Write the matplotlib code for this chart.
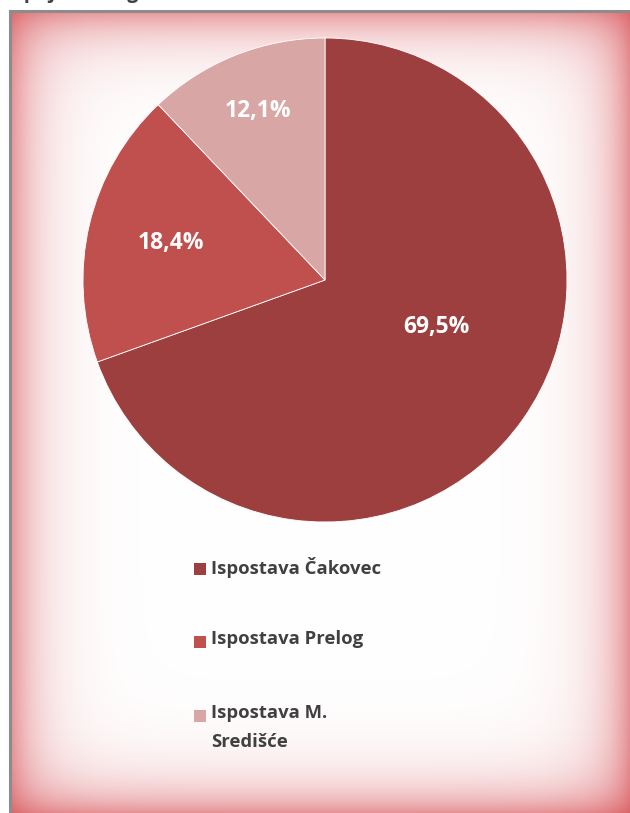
import numpy as np
import matplotlib.pyplot as plt
from matplotlib.patches import Rectangle

labels = ['Ispostava Čakovec', 'Ispostava Prelog', 'Ispostava M.\nSredišće']
values = [69.5, 18.4, 12.1]
colors = ['#9e3f3f', '#c0504d', '#d9a6a6']
pct_text = ['69,5%', '18,4%', '12,1%']

W, H = 630, 813
fig = plt.figure(figsize=(W / 100, H / 100), dpi=100)
fig.patch.set_facecolor('white')

# framed background with red glow at the edges
bg = fig.add_axes([10 / W, 0, (W - 10) / W, (H - 11) / H])
ny, nx = H - 11, W - 10
yy, xx = np.mgrid[0:ny, 0:nx]
dx = np.minimum(xx, nx - 1 - xx)
dy = np.minimum(yy, ny - 1 - yy)
ax_ = 0.58 * np.exp(-dx / 28.0)
ay_ = 0.58 * np.exp(-dy / 28.0)
a = 1 - (1 - ax_) * (1 - ay_)
red = np.array([212, 68, 74]) / 255.0
img = (1 - a[..., None]) * 1.0 + a[..., None] * red
bg.imshow(img, aspect='auto', interpolation='nearest')
bg.set_xticks([])
bg.set_yticks([])
for s in bg.spines.values():
    s.set_visible(False)
for side in ['left', 'top']:
    bg.spines[side].set_visible(True)
    bg.spines[side].set_color('#8c8c8c')
    bg.spines[side].set_linewidth(2.2)

# cut-off title
fig.text(12 / W, 1 + 7 / H, 'lipnja 2013. godine', fontsize=14, fontweight='bold',
         color='#404040', family='Open Sans', va='center', ha='left')

# pie
cx, cy, r = 325, 280, 242
ax = fig.add_axes([(cx - r) / W, (H - cy - r) / H, 2 * r / W, 2 * r / H])
wedges, _ = ax.pie(values, colors=colors, startangle=90, counterclock=False, radius=1,
                   wedgeprops=dict(edgecolor='white', linewidth=0.6))
ax.set_xlim(-1, 1)
ax.set_ylim(-1, 1)
ax.set_aspect('equal')
ax.axis('off')

dist = [0.50, 0.656, 0.75]
ang_shift = [12, 0, 0]
for w, t, d, s in zip(wedges, pct_text, dist, ang_shift):
    th = np.deg2rad((w.theta1 + w.theta2) / 2 + s)
    ax.text(d * np.cos(th), d * np.sin(th), t, ha='center', va='center',
            color='white', fontsize=16.5, fontweight='bold', family='Open Sans')

# legend
ys = [569, 642, 716]
for lab, c, y in zip(labels, colors, ys):
    fig.patches.append(Rectangle((194 / W, (H - y - 6) / H), 12 / W, 12 / H,
                                 transform=fig.transFigure, facecolor=c, edgecolor='none'))
    fig.text(211 / W, (H - y + 12) / H, lab, ha='left', va='top', fontsize=13.3,
             fontweight='bold', color='#404040', family='Open Sans', linespacing=1.75)

fig.savefig('out.png', dpi=100)
